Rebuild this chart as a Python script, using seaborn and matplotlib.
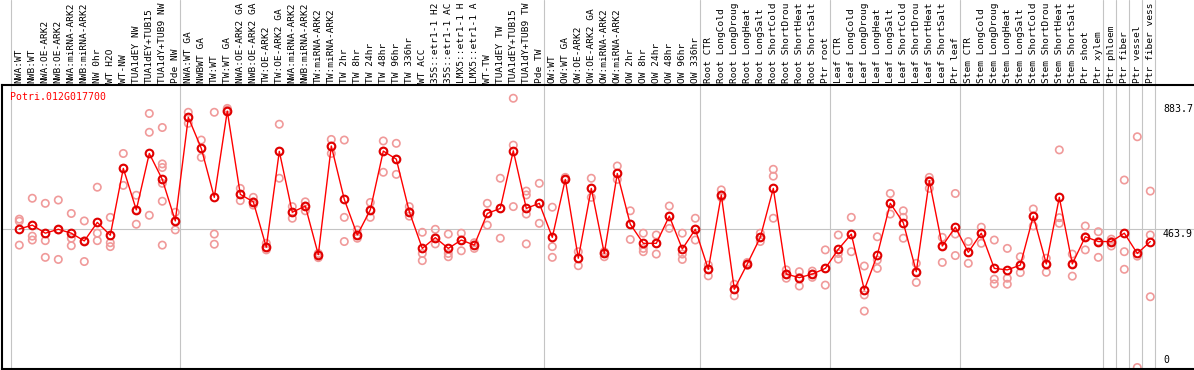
import matplotlib
matplotlib.use("Agg")
import matplotlib.pyplot as plt
import seaborn as sns
import pandas as pd

# Sample labels as they are visible in the chart (long names are cut at 14 characters)
sample_labels = [
    "NWA:WT", "NWB:WT", "NWA:OE-ARK2", "NWB:OE-ARK2", "NWA:miRNA-ARK2", "NWB:miRNA-ARK2",
    "NW 0hr", "WT H2O", "WT-NW", "TUA1dEY NW", "TUA1dEY+TUB15", "TUA1dY+TUB9 NW", "Pde NW",
    "NWA:WT GA", "NWBWT GA", "TW:WT", "TW:WT GA", "NWA:OE-ARK2 GA", "NWB:OE-ARK2 GA",
    "TW:OE-ARK2", "TW:OE-ARK2 GA", "NWA:miRNA-ARK2", "NWB:miRNA-ARK2", "TW:miRNA-ARK2",
    "TW:miRNA-ARK2", "TW 2hr", "TW 8hr", "TW 24hr", "TW 48hr", "TW 96hr", "TW 336hr",
    "WT ACC", "35S::etr1-1 H2", "35S::etr1-1 AC", "LMX5::etr1-1 H", "LMX5::etr1-1 A",
    "WT-TW", "TUA1dEY TW", "TUA1dEY+TUB15", "TUA1dY+TUB9 TW", "Pde TW",
    "OW:WT", "OW:WT GA", "OW:OE-ARK2", "OW:OE-ARK2 GA", "OW:miRNA-ARK2", "OW:miRNA-ARK2",
    "OW 2hr", "OW 8hr", "OW 24hr", "OW 48hr", "OW 96hr", "OW 336hr",
    "Root CTR", "Root LongCold", "Root LongDroug", "Root LongHeat", "Root LongSalt",
    "Root ShortCold", "Root ShortDrou", "Root ShortHeat", "Root ShortSalt", "Ptr root",
    "Leaf CTR", "Leaf LongCold", "Leaf LongDroug", "Leaf LongHeat", "Leaf LongSalt",
    "Leaf ShortCold", "Leaf ShortDrou", "Leaf ShortHeat", "Leaf ShortSalt", "Ptr leaf",
    "Stem CTR", "Stem LongCold", "Stem LongDroug", "Stem LongHeat", "Stem LongSalt",
    "Stem ShortCold", "Stem ShortDrou", "Stem ShortHeat", "Stem ShortSalt", "Ptr shoot",
    "Ptr xylem", "Ptr phloem", "Ptr fiber", "Ptr vessel", "Ptr fiber vess",
]

mean_values = [
    464, 477, 450, 463, 450, 424, 486, 443, 667, 528, 717, 630, 491,
    838, 734, 570, 859, 580, 555, 403, 724, 520, 541, 378, 742, 563, 444, 528, 725, 698,
    522, 399, 435, 399, 427, 410, 516, 533, 726, 533, 550,
    436, 630, 366, 600, 382, 650, 480, 416, 416, 507, 397, 463,
    329, 578, 262, 347, 436, 600, 313, 301, 313, 332,
    396, 447, 260, 377, 550, 485, 321, 626, 407, 470,
    386, 450, 332, 327, 343, 507, 347, 570, 347, 438, 422,
    422, 450, 382, 422,
]

replicate_values = [
    [497, 490, 410], [567, 440, 427], [550, 425, 369], [561, 461, 362], [516, 433, 408],
    [491, 424, 355], [604, 450, 425], [503, 418, 405], [717, 667, 610], [577, 528, 480],
    [851, 788, 510], [804, 682, 670, 617, 557, 410], [520, 491, 461],
    [855, 838, 818], [762, 734, 704], [855, 447, 413], [868, 863, 857], [600, 580, 559],
    [570, 555, 544], [416, 403, 394], [815, 724, 634], [539, 520, 500], [555, 541, 525],
    [382, 378, 368], [764, 742, 717], [762, 503, 422], [461, 444, 433], [553, 528, 503],
    [759, 725, 654], [751, 698, 647], [539, 522, 507], [453, 382, 358], [463, 435, 414],
    [447, 382, 371], [450, 427, 391], [418, 410, 399], [550, 516, 477], [634, 533, 433],
    [902, 745, 539], [591, 578, 514, 414], [617, 550, 483],
    [537, 405, 369], [637, 630, 628], [388, 366, 341], [634, 600, 570], [388, 382, 371],
    [675, 650, 630], [525, 480, 429], [450, 399, 388], [444, 416, 380], [541, 507, 466],
    [450, 380, 362], [500, 463, 427],
    [343, 329, 307], [595, 578, 570], [279, 262, 240], [352, 347, 342], [450, 436, 422],
    [664, 641, 500], [327, 313, 299], [321, 301, 273], [323, 313, 302], [394, 332, 276],
    [444, 382, 363], [503, 447, 388], [340, 243, 189], [438, 360, 332], [583, 550, 514],
    [525, 503, 433], [349, 321, 285], [637, 626, 600], [436, 407, 352], [583, 447, 375],
    [422, 386, 349], [470, 450, 416], [427, 296, 280], [399, 299, 279], [371, 343, 318],
    [531, 507, 474], [366, 347, 319], [729, 502, 483], [380, 347, 306], [474, 438, 394],
    [455, 422, 369], [430, 422, 407], [628, 388, 329], [773, 373, 0], [591, 444, 237],
]

group_starts = [0, 13, 41, 53, 63, 73, 84, 85, 86, 87, 88]
gene_name = "Potri.012G017700"
axis_marks = [883.7, 463.9]
axis_mark_labels = ["883.7", "463.9"]
baseline_value = 463.9

# ---- data frames ----
mean_df = pd.DataFrame({"pos": list(range(len(mean_values))), "value": mean_values})
rep_pos, rep_val = [], []
for i, reps in enumerate(replicate_values):
    for v in reps:
        rep_pos.append(i)
        rep_val.append(v)
rep_df = pd.DataFrame({"pos": rep_pos, "value": rep_val})

sns.set_style("white")
plt.rcParams["font.family"] = ["DejaVu Sans Mono", "DejaVu Sans"]

W, H = 1194, 370
fig = plt.figure(figsize=(W / 100, H / 100), dpi=100)
ax_left_px, ax_top_px, ax_bottom_px = 2, 85, 368.5
ax = fig.add_axes([ax_left_px / W, (H - ax_bottom_px) / H,
                   1 - ax_left_px / W, (ax_bottom_px - ax_top_px) / H])

step = 13.0
first_px = 19.3
ax.set_xlim(-(first_px - ax_left_px) / step, (W - first_px) / step)
scale = 0.2985
ax.set_ylim(-3.35, (367.5 - ax_top_px) / scale)
ax.set_xticks([])
ax.set_yticks([])

for side in ["left", "bottom", "top"]:
    ax.spines[side].set_visible(True)
    ax.spines[side].set_color("black")
    ax.spines[side].set_linewidth(1.5)
ax.spines["right"].set_visible(False)

grid_c = "#c4c4c4"
ext = 1 + (ax_top_px) / (ax_bottom_px - ax_top_px)
for g in group_starts:
    ax.axvline(g - 0.62, ymin=0, ymax=ext, color=grid_c, lw=0.8, clip_on=False, zorder=0)
ax.axhline(baseline_value, color=grid_c, lw=0.8, zorder=0)

sns.scatterplot(data=rep_df, x="pos", y="value", ax=ax, marker="o", s=28,
                color="#f09a9a", facecolor="none", edgecolor="#f09a9a",
                linewidth=1.2, legend=False, zorder=2, clip_on=False)
sns.lineplot(data=mean_df, x="pos", y="value", ax=ax, color="#ff0000", lw=1.0,
             marker="o", markersize=5.5, markerfacecolor="none",
             markeredgecolor="#e00000", markeredgewidth=1.5, zorder=3)
ax.set_xlabel("")
ax.set_ylabel("")

lab_fs = 6.8
for i, lab in enumerate(sample_labels):
    ax.annotate(lab, xy=(i, 1), xycoords=ax.get_xaxis_transform(), xytext=(0, 1.3),
                textcoords="offset points", rotation=90, ha="center", va="bottom",
                fontsize=lab_fs, color="black", annotation_clip=False)

ax.text((10 - ax_left_px) / (W - ax_left_px), 1 - (96.5 - ax_top_px) / (ax_bottom_px - ax_top_px),
        gene_name, transform=ax.transAxes, ha="left", va="center", fontsize=7.1, color="red")

label_x = (1163 - first_px) / step
for v, t in zip(axis_marks, axis_mark_labels):
    ax.text(label_x, v, t, ha="left", va="top", fontsize=7.1, color="black")
ax.annotate("0", xy=(label_x, 0), xytext=(0, 1.5), textcoords="offset points",
            ha="left", va="bottom", fontsize=7.1, color="black")

fig.savefig("out.png", dpi=100)
